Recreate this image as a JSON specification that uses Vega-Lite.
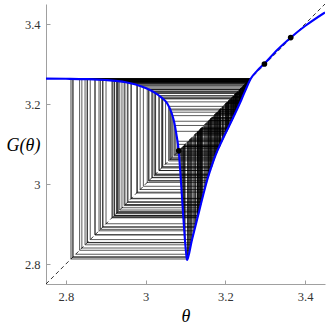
{
"$schema":"https://vega.github.io/schema/vega-lite/v6.json",
"width":279,"height":280,
"autosize":{"type":"none"},
"padding":{"left":46,"top":4,"right":2,"bottom":43},
"background":"white",
"config":{"view":{"stroke":null},
"axis":{"grid":false,"domainColor":"#a0a0a0","tickColor":"#a0a0a0","tickSize":-4,"labelPadding":10,"labelFont":"Liberation Serif","labelFontSize":12.5,"labelColor":"#333","titleFont":"Liberation Serif","titleFontStyle":"italic","titleFontWeight":"normal","titleFontSize":18,"titleColor":"#000","labelFlush":false}},
"datasets":{
"diag":[{"t":2.75},{"t":3.45}],
"curve":[{"th":2.75,"g":3.2634},{"th":2.8,"g":3.263},{"th":2.85,"g":3.2622},{"th":2.9,"g":3.26},{"th":2.95,"g":3.2545},{"th":2.975,"g":3.249},{"th":3.0,"g":3.24},{"th":3.02,"g":3.23},{"th":3.04,"g":3.216},{"th":3.055,"g":3.2},{"th":3.065,"g":3.178},{"th":3.072,"g":3.153},{"th":3.077,"g":3.125},{"th":3.083,"g":3.083},{"th":3.087,"g":3.03},{"th":3.091,"g":2.97},{"th":3.095,"g":2.91},{"th":3.099,"g":2.855},{"th":3.102,"g":2.823},{"th":3.104,"g":2.81},{"th":3.108,"g":2.822},{"th":3.115,"g":2.855},{"th":3.125,"g":2.895},{"th":3.135,"g":2.935},{"th":3.145,"g":2.975},{"th":3.155,"g":3.012},{"th":3.165,"g":3.043},{"th":3.175,"g":3.071},{"th":3.19,"g":3.105},{"th":3.2,"g":3.126},{"th":3.22,"g":3.167},{"th":3.24,"g":3.21},{"th":3.25,"g":3.2335},{"th":3.264,"g":3.2638},{"th":3.28,"g":3.2835},{"th":3.297,"g":3.3},{"th":3.33,"g":3.335},{"th":3.365,"g":3.367},{"th":3.4,"g":3.395},{"th":3.45,"g":3.429}],
"dots":[{"px":3.083,"py":3.083},{"px":3.298,"py":3.3},{"px":3.364,"py":3.366}],
"web":[
{"v":3.1048,"w":2.8125},{"v":2.8125,"w":3.2628},{"v":3.2628,"w":3.2616},{"v":3.2616,"w":3.2592},{"v":3.2592,"w":3.2544},{"v":3.2544,"w":3.2448},{"v":3.2448,"w":3.223},{"v":3.223,"w":3.1719},{"v":3.1719,"w":3.0607},{"v":3.0607,"w":3.1875},{"v":3.1875,"w":3.0967},{"v":3.0967,"w":2.8866},{"v":2.8866,"w":3.2606},{"v":3.2606,"w":3.2572},{"v":3.2572,"w":3.2504},{"v":3.2504,"w":3.2368},{"v":3.2368,"w":3.2036},{"v":3.2036,"w":3.1306},{"v":3.1306,"w":2.9174},{"v":2.9174,"w":3.2581},{"v":3.2581,"w":3.2522},{"v":3.2522,"w":3.2404},{"v":3.2404,"w":3.212},{"v":3.212,"w":3.1482},{"v":3.1482,"w":2.9862},{"v":2.9862,"w":3.245},{"v":3.245,"w":3.2235},{"v":3.2235,"w":3.1731},{"v":3.1731,"w":3.0643},{"v":3.0643,"w":3.1795},{"v":3.1795,"w":3.0796},{"v":3.0796,"w":3.1068},{"v":3.1068,"w":2.8184},{"v":2.8184,"w":3.2627},{"v":3.2627,"w":3.2614},{"v":3.2614,"w":3.2588},{"v":3.2588,"w":3.2536},{"v":3.2536,"w":3.2432},{"v":3.2432,"w":3.219},{"v":3.219,"w":3.1629},{"v":3.1629,"w":3.0337},{"v":3.0337,"w":3.2204},{"v":3.2204,"w":3.1659},{"v":3.1659,"w":3.0427},{"v":3.0427,"w":3.2131},{"v":3.2131,"w":3.1505},{"v":3.1505,"w":2.9943},{"v":2.9943,"w":3.2421},{"v":3.2421,"w":3.2163},{"v":3.2163,"w":3.1572},{"v":3.1572,"w":3.0166},{"v":3.0166,"w":3.2317},{"v":3.2317,"w":3.1919},{"v":3.1919,"w":3.106},{"v":3.106,"w":2.816},{"v":2.816,"w":3.2627},
{"v":3.1118,"w":2.84},{"v":2.84,"w":3.2624},{"v":3.2624,"w":3.2608},{"v":3.2608,"w":3.2576},{"v":3.2576,"w":3.2512},{"v":3.2512,"w":3.2384},{"v":3.2384,"w":3.2073},{"v":3.2073,"w":3.1383},{"v":3.1383,"w":2.9482},{"v":2.9482,"w":3.2547},{"v":3.2547,"w":3.2454},{"v":3.2454,"w":3.2245},{"v":3.2245,"w":3.1754},{"v":3.1754,"w":3.0709},{"v":3.0709,"w":3.1569},{"v":3.1569,"w":3.0157},{"v":3.0157,"w":3.2322},{"v":3.2322,"w":3.1931},{"v":3.1931,"w":3.1085},{"v":3.1085,"w":2.8244},
{"v":3.1195,"w":2.873},{"v":2.873,"w":3.2612},{"v":3.2612,"w":3.2584},{"v":3.2584,"w":3.2528},{"v":3.2528,"w":3.2416},{"v":3.2416,"w":3.215},{"v":3.215,"w":3.1545},{"v":3.1545,"w":3.0083},{"v":3.0083,"w":3.2359},{"v":3.2359,"w":3.2016},{"v":3.2016,"w":3.1264},{"v":3.1264,"w":2.9006},{"v":2.9006,"w":3.2599},{"v":3.2599,"w":3.2558},{"v":3.2558,"w":3.2476},{"v":3.2476,"w":3.23},{"v":3.23,"w":3.188},{"v":3.188,"w":3.0977},{"v":3.0977,"w":2.8729},{"v":2.8729,"w":3.2612},
{"v":3.1315,"w":2.921},{"v":2.921,"w":3.2577},{"v":3.2577,"w":3.2514},{"v":3.2514,"w":3.2388},{"v":3.2388,"w":3.2082},{"v":3.2082,"w":3.1402},{"v":3.1402,"w":2.9558},{"v":2.9558,"w":3.2532},{"v":3.2532,"w":3.2424},{"v":3.2424,"w":3.217},{"v":3.217,"w":3.1587},{"v":3.1587,"w":3.0211},{"v":3.0211,"w":3.2292},{"v":3.2292,"w":3.1862},{"v":3.1862,"w":3.0939},{"v":3.0939,"w":2.9265},{"v":2.9265,"w":3.2571},
{"v":3.1378,"w":2.946},{"v":2.946,"w":3.2549},{"v":3.2549,"w":3.2458},{"v":3.2458,"w":3.2255},{"v":3.2255,"w":3.1777},{"v":3.1777,"w":3.0758},{"v":3.0758,"w":3.1317},{"v":3.1317,"w":2.9218},{"v":2.9218,"w":3.2576},{"v":3.2576,"w":3.2512},{"v":3.2512,"w":3.2384},{"v":3.2384,"w":3.2073},{"v":3.2073,"w":3.1383},{"v":3.1383,"w":2.9482},
{"v":3.142,"w":2.963},{"v":2.963,"w":3.2516},{"v":3.2516,"w":3.2392},{"v":3.2392,"w":3.2092},{"v":3.2092,"w":3.1423},{"v":3.1423,"w":2.9642},{"v":2.9642,"w":3.2514},{"v":3.2514,"w":3.2388},
{"v":3.1135,"w":2.848},{"v":2.848,"w":3.2623},{"v":3.2623,"w":3.2606},{"v":3.2606,"w":3.2572},{"v":3.2572,"w":3.2504},{"v":3.2504,"w":3.2368},{"v":3.2368,"w":3.2036},{"v":3.2036,"w":3.1306},{"v":3.1306,"w":2.9174},
{"v":3.1165,"w":2.861},{"v":2.861,"w":3.2617},{"v":3.2617,"w":3.2594},{"v":3.2594,"w":3.2548},{"v":3.2548,"w":3.2456},{"v":3.2456,"w":3.225},{"v":3.225,"w":3.1765},{"v":3.1765,"w":3.0732},{"v":3.0732,"w":3.1463},{"v":3.1463,"w":2.9796},{"v":2.9796,"w":3.2473},{"v":3.2473,"w":3.2293},{"v":3.2293,"w":3.1864},{"v":3.1864,"w":3.0943},{"v":3.0943,"w":2.9205},
{"v":3.1243,"w":2.892},{"v":2.892,"w":3.2604},{"v":3.2604,"w":3.2568},{"v":3.2568,"w":3.2496},{"v":3.2496,"w":3.235},{"v":3.235,"w":3.1995},{"v":3.1995,"w":3.122},{"v":3.122,"w":2.883},{"v":2.883,"w":3.2607},
{"v":3.1333,"w":2.928},{"v":2.928,"w":3.2569},{"v":3.2569,"w":3.2498},{"v":3.2498,"w":3.2355},{"v":3.2355,"w":3.2007},{"v":3.2007,"w":3.1245},{"v":3.1245,"w":2.893},{"v":2.893,"w":3.2603},
{"v":3.1398,"w":2.954},{"v":2.954,"w":3.2536},{"v":3.2536,"w":3.2432},{"v":3.2432,"w":3.219},{"v":3.219,"w":3.1629},{"v":3.1629,"w":3.0337},{"v":3.0337,"w":3.2204},{"v":3.2204,"w":3.1659},{"v":3.1659,"w":3.0427},{"v":3.0427,"w":3.2131},
{"v":3.1683,"w":3.05},{"v":3.05,"w":3.2053},{"v":3.2053,"w":3.1341},{"v":3.1341,"w":2.9314},{"v":2.9314,"w":3.2565},{"v":3.2565,"w":3.249},{"v":3.249,"w":3.2335},{"v":3.2335,"w":3.196},{"v":3.196,"w":3.1146},{"v":3.1146,"w":2.8531},{"v":2.8531,"w":3.2621},
{"v":3.174,"w":3.067},{"v":3.067,"w":3.1709},{"v":3.1709,"w":3.0577},{"v":3.0577,"w":3.1941},{"v":3.1941,"w":3.1106},{"v":3.1106,"w":2.8343},{"v":2.8343,"w":3.2625},
{"v":3.16,"w":3.025},{"v":3.025,"w":3.2265},{"v":3.2265,"w":3.18},{"v":3.18,"w":3.0807},{"v":3.0807,"w":3.0991},{"v":3.0991,"w":2.8539},{"v":2.8539,"w":3.2622},
{"v":3.1533,"w":3.004},{"v":3.004,"w":3.238},{"v":3.238,"w":3.2064},{"v":3.2064,"w":3.1364},{"v":3.1364,"w":2.9406},{"v":2.9406,"w":3.2555},{"v":3.2555,"w":3.247},{"v":3.247,"w":3.2285},{"v":3.2285,"w":3.1846},{"v":3.1846,"w":3.0905},{"v":3.0905,"w":2.9775},{"v":2.9775,"w":3.2481},
{"v":3.135,"w":2.935},{"v":2.935,"w":3.2562},{"v":3.2562,"w":3.247},{"v":3.247,"w":3.2265},{"v":3.2265,"w":3.181},{"v":3.181,"w":3.0846},{"v":3.0846,"w":3.0618},{"v":3.0618,"w":3.185},{"v":3.185,"w":3.0937},{"v":3.0937,"w":2.9295},{"v":2.9295,"w":3.2568},
{"v":3.164,"w":3.04},{"v":3.04,"w":3.216},{"v":3.216,"w":3.1588},{"v":3.1588,"w":3.0238},{"v":3.0238,"w":3.2273},{"v":3.2273,"w":3.1827},{"v":3.1827,"w":3.0885},{"v":3.0885,"w":3.0075},{"v":3.0075,"w":3.2363},{"v":3.2363,"w":3.202},{"v":3.202,"w":3.1301},{"v":3.1301,"w":2.9154},{"v":2.9154,"w":3.2583}
]},
"layer":[
{"data":{"name":"diag"},"mark":{"type":"line","color":"#000","strokeWidth":0.8,"strokeDash":[4,3],"clip":true},
"encoding":{"x":{"field":"t","type":"quantitative","title":"θ","scale":{"domain":[2.75,3.45],"nice":false,"zero":false},"axis":{"values":[2.8,3,3.2,3.4],"format":"~g","titleX":139.5,"titleY":32,"titleBaseline":"middle"}},
"y":{"field":"t","type":"quantitative","title":"G(θ)","scale":{"domain":[2.75,3.45],"nice":false,"zero":false},"axis":{"values":[2.8,3,3.2,3.4],"format":"~g","titleAngle":0,"titleX":-23,"titleY":141,"titleAlign":"center","titleBaseline":"middle"}}}},
{"data":{"name":"web"},"mark":{"type":"rule","color":"#000","strokeWidth":0.65},
"encoding":{"x":{"field":"v","type":"quantitative","title":"θ"},"y":{"field":"v","type":"quantitative","title":"G(θ)"},"y2":{"field":"w"}}},
{"data":{"name":"web"},"mark":{"type":"rule","color":"#000","strokeWidth":0.65},
"encoding":{"y":{"field":"w","type":"quantitative","title":"G(θ)"},"x":{"field":"v","type":"quantitative","title":"θ"},"x2":{"field":"w"}}},
{"data":{"name":"curve"},"mark":{"type":"line","color":"#0000ff","strokeWidth":2.1,"interpolate":"monotone","clip":true},
"encoding":{"x":{"field":"th","type":"quantitative","title":"θ"},"y":{"field":"g","type":"quantitative","title":"G(θ)"}}},
{"data":{"name":"dots"},"mark":{"type":"circle","color":"#000","opacity":1,"size":32},
"encoding":{"x":{"field":"px","type":"quantitative","title":"θ"},"y":{"field":"py","type":"quantitative","title":"G(θ)"}}}
]
}
